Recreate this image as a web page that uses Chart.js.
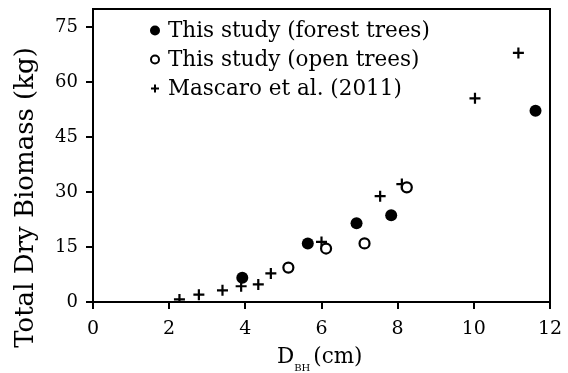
<!DOCTYPE html>
<html>
<head>
<meta charset="utf-8">
<script src="https://cdn.jsdelivr.net/npm/chart.js@4"></script>
<style>
  html, body { margin: 0; padding: 0; background: #fff; }
  #wrap { width: 568px; height: 373px; }
</style>
</head>
<body>
<div id="wrap"><canvas id="biomassChart" width="568" height="373"></canvas></div>
<script>
const forestDbh = [3.92, 5.64, 6.92, 7.83, 11.62];
const forestBiomass = [6.6, 16.0, 21.5, 23.7, 52.2];
const openDbh = [5.13, 6.12, 7.13, 8.24];
const openBiomass = [9.4, 14.6, 16.0, 31.3];
const mascaroDbh = [2.27, 2.78, 3.40, 3.89, 4.34, 4.67, 6.0, 7.54, 8.11, 10.03, 11.17];
const mascaroBiomass = [0.7, 2.0, 3.2, 4.3, 4.8, 7.8, 16.4, 28.9, 32.2, 55.6, 68.0];
const seriesLabels = ['This study (forest trees)', 'This study (open trees)', 'Mascaro et al. (2011)'];
const yTicks = [0, 15, 30, 45, 60, 75];
const xTicks = [0, 2, 4, 6, 8, 10, 12];
const yTitle = 'Total Dry Biomass (kg)';

const serif = "'DejaVu Serif', serif";

function toPoints(xs, ys) {
    return xs.map((x, i) => ({ x: x, y: ys[i] }));
}

// frame round the plot, legend inside, axis titles (x one has a subscript)
const framePlugin = {
    id: 'frame',
    afterDraw(chart) {
        const ctx = chart.ctx;
        const a = chart.chartArea;
        ctx.save();
        ctx.strokeStyle = '#000';
        ctx.fillStyle = '#000';
        ctx.lineWidth = 2;
        ctx.beginPath();
        ctx.moveTo(a.left, a.top);
        ctx.lineTo(a.right, a.top);
        ctx.lineTo(a.right, a.bottom);
        ctx.stroke();

        // legend
        ctx.font = '21.5px ' + serif;
        ctx.textBaseline = 'middle';
        ctx.textAlign = 'left';
        chart.data.datasets.forEach((ds, i) => {
            const y = 30.5 + i * 29;
            const mx = 155;
            ctx.beginPath();
            if (ds.pointStyle === 'cross') {
                ctx.lineWidth = 2;
                ctx.moveTo(mx - 4, y); ctx.lineTo(mx + 4, y);
                ctx.moveTo(mx, y - 4); ctx.lineTo(mx, y + 4);
                ctx.stroke();
            } else if (ds.pointBackgroundColor === '#000') {
                ctx.arc(mx, y, 5, 0, Math.PI * 2);
                ctx.fill();
            } else {
                ctx.lineWidth = 2;
                ctx.arc(mx, y, 4, 0, Math.PI * 2);
                ctx.stroke();
            }
            ctx.fillText(ds.label, 168, y + 1);
        });

        // y title
        ctx.save();
        ctx.translate(33, 197.5);
        ctx.rotate(-Math.PI / 2);
        ctx.textAlign = 'center';
        ctx.textBaseline = 'alphabetic';
        ctx.font = '26px ' + serif;
        ctx.fillText(yTitle, 0, 0);
        ctx.restore();

        // x title: D with subscript BH
        ctx.textBaseline = 'alphabetic';
        ctx.textAlign = 'left';
        let x = 277;
        ctx.font = '21.5px ' + serif;
        ctx.fillText('D', x, 363);
        x += ctx.measureText('D').width;
        ctx.font = '10px ' + serif;
        ctx.fillText('BH', x, 371);
        x += ctx.measureText('BH').width + 3;
        ctx.font = '21.5px ' + serif;
        ctx.fillText('(cm)', x, 363);
        ctx.restore();
    }
};

const ctx = document.getElementById('biomassChart');

new Chart(ctx, {
    type: 'scatter',
    data: {
        datasets: [
            {
                label: seriesLabels[0],
                data: toPoints(forestDbh, forestBiomass),
                pointStyle: 'circle',
                pointRadius: 6,
                pointBackgroundColor: '#000',
                pointBorderColor: '#000',
                pointBorderWidth: 0
            },
            {
                label: seriesLabels[1],
                data: toPoints(openDbh, openBiomass),
                pointStyle: 'circle',
                pointRadius: 5,
                pointBackgroundColor: '#fff',
                pointBorderColor: '#000',
                pointBorderWidth: 2.2
            },
            {
                label: seriesLabels[2],
                data: toPoints(mascaroDbh, mascaroBiomass),
                pointStyle: 'cross',
                pointRadius: 5.5,
                pointBorderColor: '#000',
                pointBorderWidth: 2.2
            }
        ]
    },
    options: {
        responsive: false,
        animation: false,
        layout: { padding: { top: 9, right: 18, left: 0, bottom: 0 } },
        plugins: {
            legend: { display: false },
            tooltip: { enabled: false }
        },
        scales: {
            x: {
                type: 'linear',
                min: 0,
                max: 12,
                afterBuildTicks: (axis) => { axis.ticks = xTicks.map(v => ({ value: v })); },
                afterFit: (axis) => {
                    axis.height = 71;
                    axis.paddingLeft = 0;
                    axis.paddingRight = 0;
                },
                grid: { drawOnChartArea: false, color: '#000', lineWidth: 2, tickLength: 7 },
                border: { color: '#000', width: 2 },
                ticks: { color: '#000', font: { family: serif, size: 19 }, padding: 9, maxRotation: 0 }
            },
            y: {
                type: 'linear',
                min: 0,
                max: 80,
                afterBuildTicks: (axis) => { axis.ticks = yTicks.map(v => ({ value: v })); },
                afterFit: (axis) => {
                    axis.width = 93;
                    axis.paddingTop = 0;
                    axis.paddingBottom = 0;
                },
                grid: { drawOnChartArea: false, color: '#000', lineWidth: 2, tickLength: 7 },
                border: { color: '#000', width: 2 },
                ticks: { color: '#000', font: { family: serif, size: 18 }, padding: 8 }
            }
        }
    },
    plugins: [framePlugin]
});
</script>
</body>
</html>
